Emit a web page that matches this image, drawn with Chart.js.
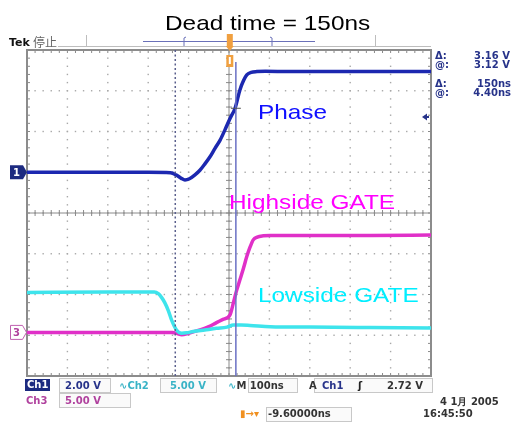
<!DOCTYPE html>
<html>
<head>
<meta charset="utf-8">
<script src="https://cdn.jsdelivr.net/npm/chart.js@4.4.1/dist/chart.umd.min.js"></script>
<style>
body { margin: 0; background: #fff; }
#wrap { position: relative; width: 531px; height: 425px; overflow: hidden; }
#scope { position: absolute; left: 0; top: 0; }
.t { position: absolute; white-space: nowrap; line-height: 1; }
.big { font-family: "Liberation Sans", Arial, sans-serif; font-size: 21px; transform: scaleX(1.16); transform-origin: 0 0; }
.s { font-family: "DejaVu Sans", sans-serif; font-weight: bold; font-size: 10px; }
.box { position: absolute; border: 1px solid #c8c8c8; background: #fafafa; }
</style>
</head>
<body>
<div id="wrap">
  <canvas id="scope" width="531" height="425"></canvas>

  <div class="t big" style="left:165px;top:11.5px;color:#000;">Dead time = 150ns</div>
  <div class="t big" style="left:258px;top:101px;color:#1010ff;">Phase</div>
  <div class="t big" style="left:229px;top:190.5px;color:#ff00ff;">Highside GATE</div>
  <div class="t big" style="left:258px;top:283.5px;color:#00eeff;">Lowside GATE</div>

  <div class="t s" style="left:9px;top:37px;font-size:11px;color:#111;">Tek</div>
  <div class="t" style="left:33px;top:36px;font-family:'Noto Sans CJK SC';font-size:12px;color:#666;">停止</div>

  <div class="t s" style="left:435px;top:50.5px;color:#27338a;">Δ:</div>
  <div class="t s" style="right:21px;top:50.5px;color:#27338a;">3.16 V</div>
  <div class="t s" style="left:435px;top:59.5px;color:#27338a;">@:</div>
  <div class="t s" style="right:21px;top:59.5px;color:#27338a;">3.12 V</div>
  <div class="t s" style="left:435px;top:78.5px;color:#27338a;">Δ:</div>
  <div class="t s" style="right:20px;top:78.5px;color:#27338a;">150ns</div>
  <div class="t s" style="left:435px;top:87.5px;color:#27338a;">@:</div>
  <div class="t s" style="right:20px;top:87.5px;color:#27338a;">4.40ns</div>

  <div class="t s" style="left:13px;top:167.5px;color:#fff;">1</div>
  <div class="t s" style="left:13px;top:327.5px;color:#b0429e;">3</div>

  <div class="box" style="left:59px;top:378px;width:50px;height:13px;"></div>
  <div class="box" style="left:160px;top:378px;width:55px;height:13px;"></div>
  <div class="box" style="left:248px;top:378px;width:48px;height:13px;"></div>
  <div class="box" style="left:314px;top:378px;width:117px;height:13px;"></div>
  <div class="box" style="left:59px;top:393px;width:70px;height:13px;"></div>
  <div class="box" style="left:266px;top:407px;width:84px;height:13px;"></div>

  <div class="t s" style="left:25px;top:379px;padding:1px 2px;background:#1c2a80;color:#fff;">Ch1</div>
  <div class="t s" style="left:65px;top:380.5px;color:#27338a;">2.00 V</div>
  <div class="t s" style="left:119px;top:380.5px;color:#39b3c6;">∿Ch2</div>
  <div class="t s" style="left:170px;top:380.5px;color:#39b3c6;">5.00 V</div>
  <div class="t s" style="left:228px;top:380.5px;color:#333;"><span style="color:#39b3c6;">∿</span>M 100ns</div>
  <div class="t s" style="left:309px;top:380.5px;color:#333;">A</div>
  <div class="t s" style="left:322px;top:380.5px;color:#27338a;">Ch1</div>
  <div class="t s" style="left:358px;top:380.5px;color:#222;">ʃ</div>
  <div class="t s" style="left:387px;top:380.5px;color:#333;">2.72 V</div>
  <div class="t s" style="left:26px;top:395.5px;color:#b0429e;">Ch3</div>
  <div class="t s" style="left:65px;top:395.5px;color:#b0429e;">5.00 V</div>
  <div class="t s" style="left:240px;top:409px;color:#f09020;">▮→▾</div>
  <div class="t s" style="left:268px;top:409px;color:#333;">-9.60000ns</div>
  <div class="t s" style="left:440px;top:397px;color:#333;">4 1月 2005</div>
  <div class="t s" style="left:423px;top:409px;color:#333;">16:45:50</div>
</div>

<script>
// time axis in ns (100ns/div, centre = 0), vertical axis in divisions
const xTicks = [-500, -400, -300, -200, -100, 0, 100, 200, 300, 400, 500];
const yTicks = [-4, -3, -2, -1, 0, 1, 2, 3, 4];

// Ch1 - Phase
const phaseTime = [-500, -200, -145, -130, -118, -109, -98, -85, -72, -60, -47, -35, -22, -10, 2.5, 15, 27, 36, 44, 55, 69, 90, 150, 300, 500];
const phaseDiv  = [1.0, 1.0, 0.99, 0.93, 0.85, 0.81, 0.84, 0.93, 1.05, 1.20, 1.38, 1.58, 1.79, 2.04, 2.32, 2.57, 3.02, 3.25, 3.39, 3.45, 3.47, 3.48, 3.47, 3.47, 3.47];

// Ch3 - Highside gate
const highTime = [-500, -200, -140, -128, -117, -100, -72, -50, -31, -15, 2.5, 10.7, 18, 27, 36, 44, 52, 60, 70, 85, 102, 200, 350, 500];
const highDiv  = [-2.93, -2.93, -2.93, -2.96, -2.99, -2.95, -2.87, -2.79, -2.69, -2.61, -2.50, -2.21, -1.93, -1.64, -1.35, -1.07, -0.84, -0.66, -0.59, -0.56, -0.55, -0.55, -0.55, -0.54];

// Ch2 - Lowside gate
const lowTime = [-500, -300, -185, -175, -167, -159, -150, -142, -130, -117, -105, -89, -60, -31, -5, 10.7, 30, 52, 102, 200, 350, 500];
const lowDiv  = [-1.95, -1.94, -1.94, -1.98, -2.07, -2.20, -2.40, -2.63, -2.87, -2.95, -2.94, -2.91, -2.87, -2.83, -2.80, -2.75, -2.75, -2.76, -2.79, -2.80, -2.81, -2.82];

// cursors (ns) and channel ground levels (div)
const cursorTime = [-133, 17];
const groundLevel = [1.0, -2.93];

function pairs(xs, ys) {
    return xs.map(function (x, i) { return { x: x, y: ys[i] }; });
}

const scopeGrid = {
    id: 'scopeGrid',
    beforeDatasetsDraw(chart) {
        const ctx = chart.ctx, a = chart.chartArea;
        const xs = chart.scales.x, ys = chart.scales.y;
        ctx.save();
        // dotted graticule
        ctx.fillStyle = '#a8a8a8';
        xTicks.forEach(function (t) {
            const px = xs.getPixelForValue(t);
            for (let k = -20; k <= 20; k++) {
                const py = ys.getPixelForValue(k * 0.2);
                ctx.fillRect(px - 0.7, py - 0.7, 1.4, 1.4);
            }
        });
        yTicks.forEach(function (v) {
            const py = ys.getPixelForValue(v);
            for (let k = -25; k <= 25; k++) {
                const px = xs.getPixelForValue(k * 20);
                ctx.fillRect(px - 0.7, py - 0.7, 1.4, 1.4);
            }
        });
        // centre cross with minor ticks
        const cx = xs.getPixelForValue(0), cy = ys.getPixelForValue(0);
        ctx.strokeStyle = '#8a8a8a';
        ctx.lineWidth = 1;
        ctx.beginPath();
        ctx.moveTo(a.left, cy); ctx.lineTo(a.right, cy);
        ctx.moveTo(cx, a.top); ctx.lineTo(cx, a.bottom);
        for (let k = -25; k <= 25; k++) {
            const px = xs.getPixelForValue(k * 20);
            ctx.moveTo(px, cy - 3); ctx.lineTo(px, cy + 3);
            ctx.moveTo(px, a.top); ctx.lineTo(px, a.top + 3);
            ctx.moveTo(px, a.bottom); ctx.lineTo(px, a.bottom - 3);
        }
        for (let k = -20; k <= 20; k++) {
            const py = ys.getPixelForValue(k * 0.2);
            ctx.moveTo(cx - 3, py); ctx.lineTo(cx + 3, py);
            ctx.moveTo(a.left, py); ctx.lineTo(a.left + 3, py);
            ctx.moveTo(a.right, py); ctx.lineTo(a.right - 3, py);
        }
        ctx.stroke();
        // frame
        ctx.strokeStyle = '#8c8c8c';
        ctx.lineWidth = 2;
        ctx.strokeRect(a.left, a.top, a.right - a.left, a.bottom - a.top);
        ctx.restore();
    },
    afterDatasetsDraw(chart) {
        const ctx = chart.ctx, a = chart.chartArea;
        const xs = chart.scales.x, ys = chart.scales.y;
        ctx.save();
        // cursor 1 (dashed) and cursor 2 (solid)
        const c1 = xs.getPixelForValue(cursorTime[0]);
        const c2 = xs.getPixelForValue(cursorTime[1]);
        ctx.strokeStyle = '#5a5f8c';
        ctx.lineWidth = 1.5;
        ctx.setLineDash([2, 2.5]);
        ctx.beginPath(); ctx.moveTo(c1, a.top); ctx.lineTo(c1, a.bottom); ctx.stroke();
        ctx.setLineDash([]);
        ctx.strokeStyle = '#6a70c4';
        ctx.beginPath(); ctx.moveTo(c2, a.top + 12); ctx.lineTo(c2, a.bottom); ctx.stroke();
        // crosshair on phase trace
        const hy = ys.getPixelForValue(2.57);
        ctx.strokeStyle = '#555';
        ctx.lineWidth = 1;
        ctx.beginPath(); ctx.moveTo(c2 - 5, hy); ctx.lineTo(c2 + 5, hy); ctx.stroke();

        // channel ground markers
        const g1 = ys.getPixelForValue(groundLevel[0]);
        ctx.fillStyle = '#1c2a80';
        ctx.beginPath();
        ctx.moveTo(10, g1 - 7); ctx.lineTo(23, g1 - 7); ctx.lineTo(27, g1);
        ctx.lineTo(23, g1 + 7); ctx.lineTo(10, g1 + 7); ctx.closePath(); ctx.fill();
        const g3 = ys.getPixelForValue(groundLevel[1]);
        ctx.strokeStyle = '#c060b0';
        ctx.lineWidth = 1;
        ctx.beginPath();
        ctx.moveTo(10.5, g3 - 7); ctx.lineTo(22.5, g3 - 7); ctx.lineTo(26.5, g3);
        ctx.lineTo(22.5, g3 + 7); ctx.lineTo(10.5, g3 + 7); ctx.closePath(); ctx.stroke();

        // small marker on right edge
        ctx.fillStyle = '#27338a';
        ctx.beginPath(); ctx.moveTo(422, 117); ctx.lineTo(427, 113.5); ctx.lineTo(427, 120.5); ctx.closePath(); ctx.fill();
        ctx.fillRect(426, 116, 3, 2);

        // record bar on top
        ctx.strokeStyle = '#bdbdbd';
        ctx.lineWidth = 1;
        ctx.beginPath();
        ctx.moveTo(58, 46.5); ctx.lineTo(431, 46.5);
        ctx.moveTo(86.5, 35); ctx.lineTo(86.5, 46);
        ctx.moveTo(375.5, 35); ctx.lineTo(375.5, 46);
        ctx.stroke();
        ctx.strokeStyle = '#6a70b8';
        ctx.beginPath();
        ctx.moveTo(143, 41.5); ctx.lineTo(315, 41.5);
        ctx.moveTo(186, 37); ctx.lineTo(184, 38); ctx.lineTo(184, 46);
        ctx.moveTo(270, 37); ctx.lineTo(272, 38); ctx.lineTo(272, 46);
        ctx.stroke();

        // trigger position marker
        const tp = xs.getPixelForValue(2);
        ctx.fillStyle = '#f0a040';
        ctx.fillRect(tp - 3, 34, 6, 12);
        ctx.beginPath(); ctx.moveTo(tp - 4, 46); ctx.lineTo(tp + 4, 46); ctx.lineTo(tp, 51); ctx.closePath(); ctx.fill();
        ctx.fillRect(tp - 3.5, 55, 7, 12);
        ctx.fillStyle = '#fff';
        ctx.fillRect(tp - 1, 57, 2, 7);
        ctx.restore();
    }
};

function trace(label, xs, ys, color) {
    return {
        label: label,
        data: pairs(xs, ys),
        borderColor: color,
        borderWidth: 3.5,
        pointRadius: 0,
        fill: false,
        cubicInterpolationMode: 'monotone'
    };
}

new Chart(document.getElementById('scope'), {
    type: 'line',
    data: {
        datasets: [
            trace('Lowside GATE', lowTime, lowDiv, '#3ee4ec'),
            trace('Highside GATE', highTime, highDiv, '#e030c8'),
            trace('Phase', phaseTime, phaseDiv, '#1c28b0')
        ]
    },
    options: {
        responsive: false,
        animation: false,
        events: [],
        layout: { padding: { left: 27, right: 100, top: 50, bottom: 49 } },
        scales: {
            x: { type: 'linear', min: -500, max: 500, display: false },
            y: { type: 'linear', min: -4, max: 4, display: false }
        },
        plugins: {
            legend: { display: false },
            tooltip: { enabled: false },
            title: { display: false }
        }
    },
    plugins: [scopeGrid]
});
</script>
</body>
</html>
